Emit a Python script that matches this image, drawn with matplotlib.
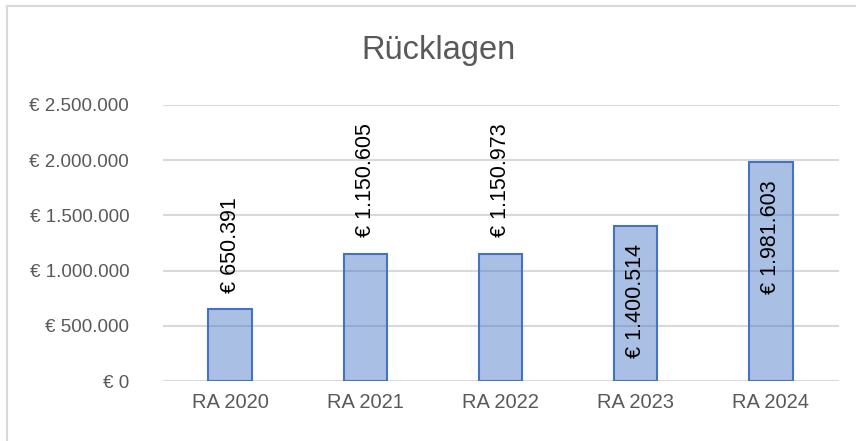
import matplotlib
matplotlib.use("Agg")
import matplotlib.pyplot as plt
from matplotlib.lines import Line2D

categories = ["RA 2020", "RA 2021", "RA 2022", "RA 2023", "RA 2024"]
values = [650391, 1150605, 1150973, 1400514, 1981603]
label_texts = ["€ 650.391", "€ 1.150.605", "€ 1.150.973", "€ 1.400.514", "€ 1.981.603"]
label_inside = [False, False, False, True, True]
yticks = [0, 500000, 1000000, 1500000, 2000000, 2500000]
ytick_labels = ["€ 0", "€ 500.000", "€ 1.000.000", "€ 1.500.000", "€ 2.000.000", "€ 2.500.000"]

plt.rcParams['font.family'] = ['Liberation Sans', 'DejaVu Sans']

W, H = 856, 441
fig = plt.figure(figsize=(W / 100, H / 100), dpi=100)
ax = fig.add_axes([162.5 / W, 1 - 381 / H, (838.5 - 162.5) / W, (381 - 105) / H])

x = list(range(len(categories)))
ax.bar(x, values, width=0.32, color=(0.267, 0.447, 0.769, 0.45),
       edgecolor="#4472C4", linewidth=1.5, zorder=3)

ax.set_xlim(-0.5, len(categories) - 0.5)
ax.set_ylim(0, 2500000)
ax.set_yticks(yticks)
ax.set_yticklabels(ytick_labels)
ax.set_xticks(x)
ax.set_xticklabels(categories)
ax.tick_params(axis='both', length=0, colors="#595959")
ax.tick_params(axis='y', pad=24, labelsize=13.5)
ax.tick_params(axis='x', pad=9, labelsize=14.5)
for s in ax.spines.values():
    s.set_visible(False)
ax.grid(axis='y', color="#D9D9D9", linewidth=1.5, zorder=0)
ax.set_axisbelow(True)

for xi, v, t, inside in zip(x, values, label_texts, label_inside):
    if inside:
        ax.annotate(t, (xi, v), xytext=(0, -13), textcoords='offset points',
                    rotation=90, ha='center', va='top', fontsize=15.5, color="#000000", zorder=4)
    else:
        ax.annotate(t, (xi, v), xytext=(0, 12), textcoords='offset points',
                    rotation=90, ha='center', va='bottom', fontsize=15.5, color="#000000", zorder=4)

fig.text(0.512, 1 - 50 / H, "Rücklagen", ha='center', va='center', fontsize=23.5, color="#595959")

# chart area border (left and top)
fig.add_artist(Line2D([7.5 / W, 7.5 / W], [0, 1 - 5.5 / H], transform=fig.transFigure, color="#D9D9D9", linewidth=1.5))
fig.add_artist(Line2D([7.5 / W, 1], [1 - 5.5 / H, 1 - 5.5 / H], transform=fig.transFigure, color="#D9D9D9", linewidth=1.5))

fig.savefig("out.png", dpi=100)
